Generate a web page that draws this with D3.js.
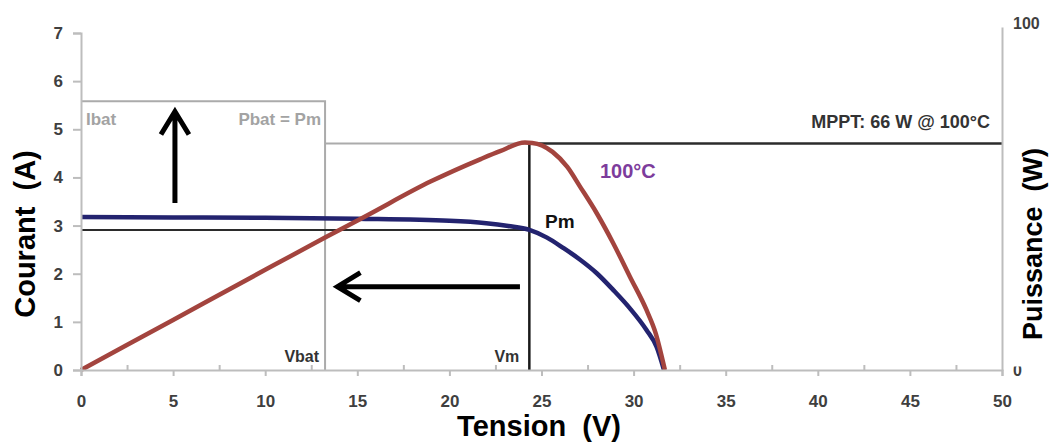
<!DOCTYPE html>
<html>
<head>
<meta charset="utf-8">
<script src="https://cdn.jsdelivr.net/npm/d3@7/dist/d3.min.js"></script>
<style>
  body { margin: 0; background: #fff; }
  text { font-family: "Liberation Sans", Arial, sans-serif; font-weight: bold; }
</style>
</head>
<body>
<div id="chart"></div>
<script>
// I(V) curve at 100°C
const voltage = [0, 5, 10, 15, 20, 22, 23.2, 24.34, 25.3, 26.2, 27.1, 28, 28.9, 29.8, 30.7, 31.25, 31.65];
const current = [3.18, 3.17, 3.16, 3.14, 3.10, 3.05, 2.99, 2.91, 2.75, 2.53, 2.29, 2.01, 1.66, 1.28, 0.83, 0.48, 0];
// P(V) curve
const powerVoltage = [0, 5, 10, 13.25, 15.5, 19, 21.7, 22.75, 24.1, 24.5, 25.6, 26.4, 27.1, 28, 28.9, 29.8, 30.7, 31.2, 31.7];
const power = [0, 14.6, 29.2, 38.6, 45.0, 55.0, 61.5, 63.8, 66.3, 66.2, 63.6, 59.2, 53.4, 45.7, 36.9, 27.2, 17.5, 10.7, 0];

const tensionTicks = [0, 5, 10, 15, 20, 25, 30, 35, 40, 45, 50];
const tensionMinor = [2.5, 7.5, 12.5, 17.5, 22.5, 27.5, 32.5, 37.5, 42.5, 47.5];
const courantTicks = [0, 1, 2, 3, 4, 5, 6, 7];
const puissanceTicks = [0, 100];

// operating points
const vbat = 13.25, vm = 24.34, im = 2.91, pm = 66, ibatTop = 5.58;
const upArrow = [5.1, 3.47, 5.37];     // V, I from, I to
const leftArrow = [23.83, 13.92, 1.73]; // V from, V to, I

class PvDiagram {
  constructor(selector, w, h) {
    this.w = w;
    this.h = h;
    this.svg = selector.append('svg')
                       .attr('width', w)
                       .attr('height', h);
    this.x = d3.scaleLinear().domain([0, 50]).range([81, 1002]);
    this.yI = d3.scaleLinear().domain([0, 7]).range([370, 33]);
    this.yP = d3.scaleLinear().domain([0, 100]).range([370, 27]);
    this.axisColor = '#bdbdbd';
    this.labelColor = '#3f3f3f';
  }

  drawAxes() {
    let x = this.x, yI = this.yI, yP = this.yP;
    //Left axis
    let left = this.svg.append('g')
                       .attr('transform', `translate(${x(0)},0)`)
                       .call(d3.axisLeft(yI).tickValues(courantTicks).tickFormat(d3.format('d'))
                               .tickSizeOuter(0).tickSize(8).tickPadding(10));
    //Bottom axis
    let bottom = this.svg.append('g')
                         .attr('transform', `translate(0,${yI(0)})`)
                         .call(d3.axisBottom(x).tickValues(tensionTicks).tickFormat(d3.format('d'))
                                 .tickSizeOuter(0).tickSize(6));
    bottom.selectAll('text').attr('dy', 0).attr('y', 37);
    let minor = this.svg.append('g')
                        .attr('transform', `translate(0,${yI(0)})`)
                        .call(d3.axisBottom(x).tickValues(tensionMinor).tickSize(-5).tickFormat(''));
    minor.select('.domain').remove();
    //Right axis
    let right = this.svg.append('g')
                        .attr('transform', `translate(${x(50)},0)`)
                        .call(d3.axisRight(yP).tickValues(puissanceTicks).tickSizeOuter(0).tickSize(0).tickPadding(11));
    right.selectAll('.tick').filter(d => d == 0)
         .select('text').attr('dy', '0.72em').attr('y', -6);
    right.selectAll('.tick').filter(d => d == 100)
         .select('text').attr('dy', '0.1em');

    [left, bottom, minor, right].forEach(g => {
      g.selectAll('.domain').attr('stroke', this.axisColor).attr('stroke-width', 2);
      g.selectAll('.tick line').attr('stroke', this.axisColor).attr('stroke-width', 2);
      g.selectAll('text').attr('fill', this.labelColor).attr('font-size', 17);
    });
    right.selectAll('text').attr('font-size', 16);
    // the right "0" is cut off by the picture edge
    right.selectAll('.tick').filter(d => d == 0)
         .each(function() {
           let g = d3.select(this);
           g.append('clipPath').attr('id', 'zeroClip')
            .append('rect').attr('x', 0).attr('y', -4).attr('width', 40).attr('height', 20);
           g.select('text').attr('clip-path', 'url(#zeroClip)');
         });

    //Axis titles
    this.svg.append('text')
            .attr('transform', `translate(35,234) rotate(-90)`)
            .attr('text-anchor', 'middle')
            .attr('font-size', 29)
            .attr('fill', '#000')
            .style('white-space', 'pre')
            .text('Courant  (A)');
    this.svg.append('text')
            .attr('transform', `translate(1042,244) rotate(-90)`)
            .attr('text-anchor', 'middle')
            .attr('font-size', 27)
            .attr('fill', '#000')
            .style('white-space', 'pre')
            .text('Puissance  (W)');
    this.svg.append('text')
            .attr('x', 539)
            .attr('y', 436)
            .attr('text-anchor', 'middle')
            .attr('font-size', 29)
            .attr('fill', '#000')
            .style('white-space', 'pre')
            .text('Tension  (V)');
  }

  drawGuides() {
    let x = this.x, yI = this.yI, yP = this.yP;
    let grey = '#ababab';
    //Battery box
    this.svg.append('path')
            .attr('d', `M ${x(0)} ${yI(ibatTop)} L ${x(vbat)} ${yI(ibatTop)} L ${x(vbat)} ${yI(0)}`)
            .attr('fill', 'none')
            .attr('stroke', grey)
            .attr('stroke-width', 2);
    this.svg.append('path')
            .attr('d', `M ${x(vbat)} ${yP(pm)} L ${x(vm)} ${yP(pm)}`)
            .attr('stroke', grey)
            .attr('stroke-width', 2);
    //MPPT
    this.svg.append('path')
            .attr('d', `M ${x(vm)} ${yP(pm)} L ${x(50)} ${yP(pm)}`)
            .attr('stroke', '#2b2b2b')
            .attr('stroke-width', 2.5);
    this.svg.append('path')
            .attr('d', `M ${x(vm)} ${yP(pm)} L ${x(vm)} ${yI(0)}`)
            .attr('stroke', '#1a1a1a')
            .attr('stroke-width', 2.5);
    this.svg.append('path')
            .attr('d', `M ${x(0)} ${yI(im)} L ${x(vm)} ${yI(im)}`)
            .attr('stroke', '#2b2b2b')
            .attr('stroke-width', 2);
  }

  drawCurves() {
    let x = this.x, yI = this.yI, yP = this.yP;
    let iv = voltage.map((v, i) => [v, current[i]]);
    let pv = powerVoltage.map((v, i) => [v, power[i]]);
    this.svg.append('path')
            .datum(iv)
            .attr('d', d3.line().x(d => x(d[0])).y(d => yI(d[1])).curve(d3.curveMonotoneX))
            .attr('fill', 'none')
            .attr('stroke', '#23236f')
            .attr('stroke-width', 4.5);
    this.svg.append('path')
            .datum(pv)
            .attr('d', d3.line().x(d => x(d[0])).y(d => yP(d[1])).curve(d3.curveMonotoneX))
            .attr('fill', 'none')
            .attr('stroke', '#a3443e')
            .attr('stroke-width', 4.5);
  }

  drawArrows() {
    let x = this.x, yI = this.yI;
    let ax = x(upArrow[0]), a1 = yI(upArrow[1]), a2 = yI(upArrow[2]);
    this.svg.append('path')
            .attr('d', `M ${ax} ${a1} L ${ax} ${a2} M ${ax - 14} ${a2 + 23} L ${ax} ${a2} L ${ax + 14} ${a2 + 23}`)
            .attr('fill', 'none')
            .attr('stroke', '#000')
            .attr('stroke-width', 5);
    let by = yI(leftArrow[2]), b1 = x(leftArrow[0]), b2 = x(leftArrow[1]);
    this.svg.append('path')
            .attr('d', `M ${b1} ${by} L ${b2} ${by} M ${b2 + 23} ${by - 14} L ${b2} ${by} L ${b2 + 23} ${by + 14}`)
            .attr('fill', 'none')
            .attr('stroke', '#000')
            .attr('stroke-width', 5);
  }

  drawLabels() {
    let x = this.x;
    let label = (tx, ty, txt, size, color, anchor) => {
      this.svg.append('text')
              .attr('x', tx)
              .attr('y', ty)
              .attr('text-anchor', anchor)
              .attr('font-size', size)
              .attr('fill', color)
              .text(txt);
    };
    label(86, 125, 'Ibat', 17, '#a3a3a3', 'start');
    label(x(vbat) - 4, 125, 'Pbat = Pm', 17, '#a3a3a3', 'end');
    label(990, 128, 'MPPT: 66 W @ 100°C', 18, '#333', 'end');
    label(600, 178, '100°C', 20, '#7d3c9c', 'start');
    label(545, 228, 'Pm', 19, '#111', 'start');
    label(x(vbat) - 6, 362, 'Vbat', 16, '#333', 'end');
    label(x(vm) - 10, 362, 'Vm', 16, '#333', 'end');
  }
}

let diagram = new PvDiagram(d3.select('#chart'), 1049, 443);
diagram.drawGuides();
diagram.drawCurves();
diagram.drawAxes();
diagram.drawArrows();
diagram.drawLabels();
</script>
</body>
</html>
